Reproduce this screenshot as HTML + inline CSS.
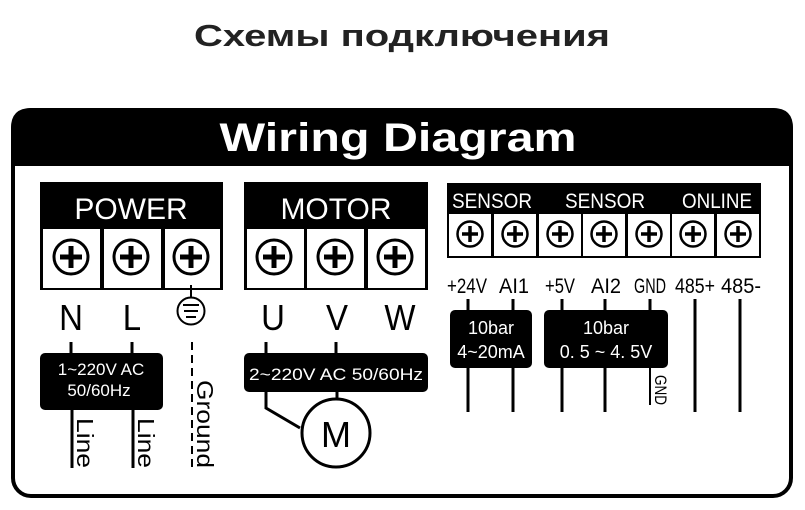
<!DOCTYPE html>
<html><head><meta charset="utf-8"><style>html,body{margin:0;padding:0;background:#fff}svg{display:block}</style></head><body>
<svg width="805" height="510" viewBox="0 0 805 510" xmlns="http://www.w3.org/2000/svg" font-family="Liberation Sans, sans-serif">
<defs>
<g id="t"><circle r="17" fill="#fff" stroke="#000" stroke-width="3"/><path d="M-11 0H11M0 -11V11" stroke="#000" stroke-width="5"/></g>
<g id="s"><circle r="12.5" fill="#fff" stroke="#000" stroke-width="2.5"/><path d="M-8 0H8M0 -8V8" stroke="#000" stroke-width="3.5"/></g>
</defs>
<text x="402" y="46" text-anchor="middle" font-size="31" font-weight="bold" fill="#222" textLength="416" lengthAdjust="spacingAndGlyphs">Схемы подключения</text>
<rect x="13" y="110" width="778" height="386" rx="18" fill="#fff" stroke="#000" stroke-width="4"/>
<path d="M11 166V128Q11 108 31 108H773Q793 108 793 128V166Z" fill="#000"/>
<text x="398" y="151" text-anchor="middle" font-size="40" font-weight="bold" fill="#fff" textLength="357" lengthAdjust="spacingAndGlyphs">Wiring Diagram</text>
<!-- POWER -->
<rect x="40" y="182" width="183" height="108" fill="#000"/>
<text x="131" y="219" text-anchor="middle" font-size="30" fill="#fff">POWER</text>
<rect x="43" y="229" width="57" height="59" fill="#fff"/><rect x="104" y="229" width="57" height="59" fill="#fff"/><rect x="165" y="229" width="55" height="59" fill="#fff"/>
<use href="#t" x="71" y="257"/><use href="#t" x="131" y="257"/><use href="#t" x="191" y="257"/>
<!-- MOTOR -->
<rect x="244" y="182" width="184" height="108" fill="#000"/>
<text x="336" y="219" text-anchor="middle" font-size="30" fill="#fff">MOTOR</text>
<rect x="247" y="229" width="57" height="59" fill="#fff"/><rect x="307" y="229" width="57" height="59" fill="#fff"/><rect x="368" y="229" width="57" height="59" fill="#fff"/>
<use href="#t" x="274" y="257"/><use href="#t" x="335" y="257"/><use href="#t" x="395" y="257"/>
<g font-size="33" text-anchor="middle" fill="#000">
<text x="71" y="330" transform="translate(71,330) scale(1,1.1) translate(-71,-330)">N</text><text x="132" y="330" transform="translate(132,330) scale(1,1.1) translate(-132,-330)">L</text>
<text x="273" y="330" transform="translate(273,330) scale(1,1.1) translate(-273,-330)">U</text><text x="337" y="330" transform="translate(337,330) scale(1,1.1) translate(-337,-330)">V</text><text x="400" y="330" transform="translate(400,330) scale(1,1.1) translate(-400,-330)">W</text>
</g>
<line x1="191" y1="285" x2="191" y2="298" stroke="#000" stroke-width="2"/>
<circle cx="191" cy="311" r="13.5" fill="#fff" stroke="#000" stroke-width="2"/>
<path d="M183 305H199M184 311H198M186 317H196" stroke="#000" stroke-width="2"/>
<g stroke="#000" stroke-width="3" fill="none">
<path d="M71 342V354M132 342V354M72 408V468M133 408V468"/>
<path d="M266 342V354M336 342V354M266 390V408L300 428M337 390V400"/>
<path d="M192 342V468" stroke-dasharray="8,5" stroke-width="2"/>
</g>
<rect x="40" y="353" width="123" height="57" rx="5" fill="#000"/>
<text x="101" y="375" text-anchor="middle" font-size="17" fill="#fff">1~220V  AC</text>
<text x="99" y="396" text-anchor="middle" font-size="17" fill="#fff">50/60Hz</text>
<rect x="244" y="353" width="184" height="39" rx="5" fill="#000"/>
<text x="336" y="380" text-anchor="middle" font-size="17" fill="#fff" textLength="174" lengthAdjust="spacingAndGlyphs">2~220V AC 50/60Hz</text>
<circle cx="336" cy="433" r="34" fill="#fff" stroke="#000" stroke-width="3"/>
<text x="336" y="447" text-anchor="middle" font-size="36" fill="#000">M</text>
<g font-size="23" fill="#000">
<text transform="translate(77,418) rotate(90)" textLength="50" lengthAdjust="spacingAndGlyphs">Line</text>
<text transform="translate(138,418) rotate(90)" textLength="50" lengthAdjust="spacingAndGlyphs">Line</text>
<text transform="translate(197,380) rotate(90)" textLength="88" lengthAdjust="spacingAndGlyphs">Ground</text>
</g>
<!-- SENSOR -->
<rect x="447" y="183" width="314" height="75" fill="#000"/>
<g font-size="21" fill="#fff"><text x="452" y="208" textLength="80" lengthAdjust="spacingAndGlyphs">SENSOR</text><text x="565" y="208" textLength="80" lengthAdjust="spacingAndGlyphs">SENSOR</text><text x="682" y="208" textLength="70" lengthAdjust="spacingAndGlyphs">ONLINE</text></g>
<g fill="#fff"><rect x="449" y="214" width="42" height="42"/><rect x="494" y="214" width="42" height="42"/><rect x="539" y="214" width="42" height="42"/><rect x="583" y="214" width="42" height="42"/><rect x="628" y="214" width="42" height="42"/><rect x="672" y="214" width="42" height="42"/><rect x="717" y="214" width="42" height="42"/></g>
<use href="#s" x="470" y="234"/><use href="#s" x="515" y="234"/><use href="#s" x="560" y="234"/><use href="#s" x="604" y="234"/><use href="#s" x="649" y="234"/><use href="#s" x="693" y="234"/><use href="#s" x="738" y="234"/>
<g font-size="21" fill="#000" text-anchor="middle">
<text x="467" y="293" textLength="40" lengthAdjust="spacingAndGlyphs">+24V</text>
<text x="514" y="293" textLength="30" lengthAdjust="spacingAndGlyphs">AI1</text>
<text x="560" y="293" textLength="30" lengthAdjust="spacingAndGlyphs">+5V</text>
<text x="606" y="293" textLength="30" lengthAdjust="spacingAndGlyphs">AI2</text>
<text x="650" y="293" textLength="32" lengthAdjust="spacingAndGlyphs">GND</text>
<text x="695" y="293" textLength="40" lengthAdjust="spacingAndGlyphs">485+</text>
<text x="741" y="293" textLength="40" lengthAdjust="spacingAndGlyphs">485-</text>
</g>
<g stroke="#000" stroke-width="3">
<path d="M468 299V412M513 299V412M562 299V412M605 299V412M650 299V312M695 299V412M740 299V412"/>
<path d="M650 366V405" stroke-width="2"/>
</g>
<rect x="450" y="310" width="82" height="58" rx="5" fill="#000"/>
<rect x="544" y="310" width="124" height="58" rx="5" fill="#000"/>
<g font-size="18" fill="#fff" text-anchor="middle">
<text x="491" y="334">10bar</text><text x="491" y="358">4~20mA</text>
<text x="606" y="334">10bar</text><text x="606" y="358">0. 5 ~ 4. 5V</text>
</g>
<text transform="translate(655,375) rotate(90)" font-size="17" fill="#000" textLength="30" lengthAdjust="spacingAndGlyphs">GND</text>
</svg>
</body></html>
